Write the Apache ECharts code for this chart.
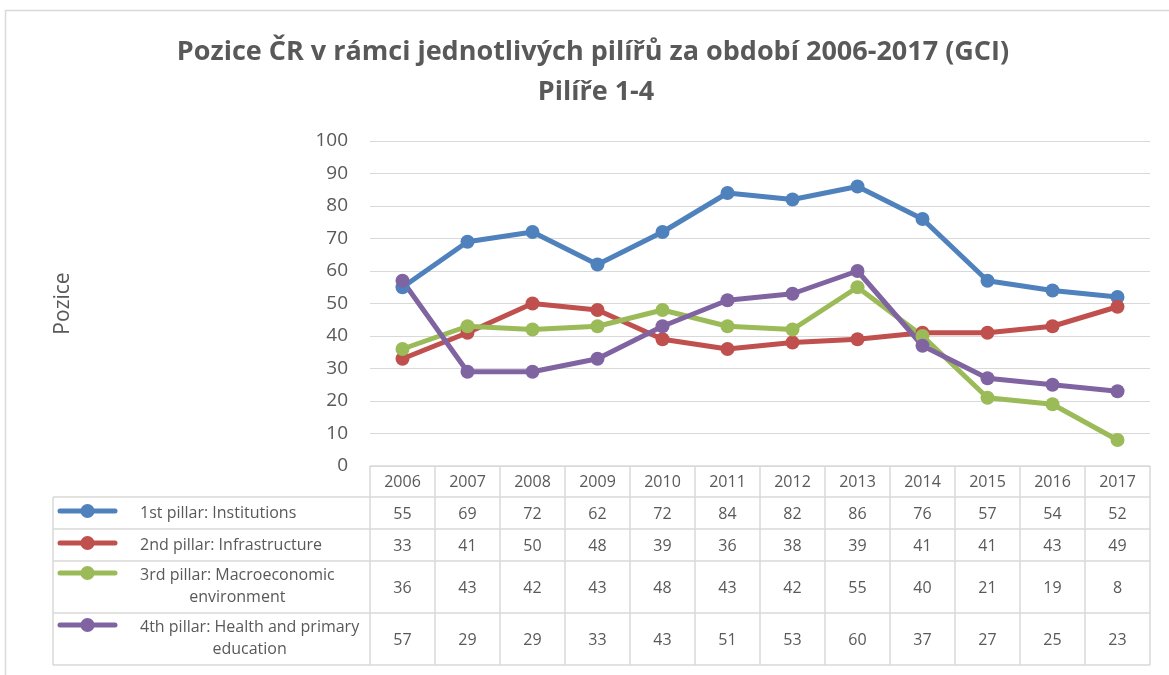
<!DOCTYPE html>
<html>
<head>
<meta charset="utf-8">
<script src="https://cdn.jsdelivr.net/npm/echarts@6/dist/echarts.min.js"></script>
<style>
html, body { margin: 0; padding: 0; background: #fff; }
#chart { width: 1169px; height: 675px; }
</style>
</head>
<body>
<div id="chart"></div>
<script>
// data
var years = ['2006', '2007', '2008', '2009', '2010', '2011', '2012', '2013', '2014', '2015', '2016', '2017'];
var institutions = [55, 69, 72, 62, 72, 84, 82, 86, 76, 57, 54, 52];
var infrastructure = [33, 41, 50, 48, 39, 36, 38, 39, 41, 41, 43, 49];
var macroeconomic = [36, 43, 42, 43, 48, 43, 42, 55, 40, 21, 19, 8];
var health = [57, 29, 29, 33, 43, 51, 53, 60, 37, 27, 25, 23];
var seriesNames = [
    '1st pillar: Institutions',
    '2nd pillar: Infrastructure',
    '3rd pillar: Macroeconomic\nenvironment',
    '4th pillar: Health and primary\neducation'
];
var seriesData = [institutions, infrastructure, macroeconomic, health];
var colors = ['#4F81BD', '#C0504D', '#9BBB59', '#8064A2'];

var FONT = '"Open Sans"';
var GRAY = '#595959';
var LINE = '#d9d9d9';

var chart = echarts.init(document.getElementById('chart'));

var series = seriesData.map(function (d, i) {
    return {
        name: seriesNames[i],
        type: 'line',
        data: d,
        symbol: 'circle',
        symbolSize: 14,
        color: colors[i],
        lineStyle: { width: 5, color: colors[i] },
        itemStyle: { color: colors[i] },
        animation: false
    };
});

chart.setOption({
    backgroundColor: '#fff',
    animation: false,
    textStyle: { fontFamily: FONT },
    grid: { left: 370, right: 19, top: 141, bottom: 209 },
    xAxis: {
        type: 'category',
        data: years,
        boundaryGap: true,
        axisLine: { show: false },
        axisTick: { show: false },
        axisLabel: { show: false }
    },
    yAxis: {
        type: 'value',
        min: 0,
        max: 100,
        interval: 10,
        name: 'Pozice',
        nameLocation: 'middle',
        nameGap: 296,
        nameRotate: 90,
        nameTextStyle: { color: GRAY, fontSize: 21, fontFamily: FONT },
        axisLine: { show: false },
        axisTick: { show: false },
        axisLabel: { color: GRAY, fontSize: 19, fontFamily: FONT, margin: 22 },
        splitLine: { lineStyle: { color: LINE, width: 1 } }
    },
    series: series
});

// data table under the plot, built from the arrays above
var ctx = document.createElement('canvas').getContext('2d');
var rows = [
    { top: 497, h: 32 },
    { top: 529, h: 32 },
    { top: 561, h: 52 },
    { top: 613, h: 52 }
];
var headTop = 466, tableBottom = 665, tableLeft = 53;
var band = chart.convertToPixel({ xAxisIndex: 0 }, 1) - chart.convertToPixel({ xAxisIndex: 0 }, 0);
var firstX = chart.convertToPixel({ xAxisIndex: 0 }, 0) - band / 2;
var lastX = firstX + band * years.length;
var g = [];
var lineStyle = { stroke: LINE, lineWidth: 1.5 };
var txt = { fill: GRAY, fontSize: 16, fontFamily: FONT, align: 'center', verticalAlign: 'middle' };

// outer chart border
g.push({ type: 'polyline', shape: { points: [[5.5, 675], [5.5, 10.5], [1169, 10.5]] }, style: { stroke: LINE, lineWidth: 1.5, fill: null }, silent: true });

// title
g.push({ type: 'text', x: 593, y: 52, style: { text: 'Pozice ČR v rámci jednotlivých pilířů za období 2006-2017 (GCI)', fill: GRAY, fontSize: 27, fontWeight: 'bold', fontFamily: FONT, align: 'center', verticalAlign: 'middle' } });
g.push({ type: 'text', x: 596, y: 92, style: { text: 'Pilíře 1-4', fill: GRAY, fontSize: 27, fontWeight: 'bold', fontFamily: FONT, align: 'center', verticalAlign: 'middle' } });

// horizontal lines
g.push({ type: 'line', shape: { x1: firstX, y1: headTop, x2: lastX, y2: headTop }, style: lineStyle, silent: true });
rows.forEach(function (r) {
    g.push({ type: 'line', shape: { x1: tableLeft, y1: r.top, x2: lastX, y2: r.top }, style: lineStyle, silent: true });
});
g.push({ type: 'line', shape: { x1: tableLeft, y1: tableBottom, x2: lastX, y2: tableBottom }, style: lineStyle, silent: true });
// vertical lines
g.push({ type: 'line', shape: { x1: tableLeft, y1: rows[0].top, x2: tableLeft, y2: tableBottom }, style: lineStyle, silent: true });
for (var k = 0; k <= years.length; k++) {
    var vx = firstX + band * k;
    g.push({ type: 'line', shape: { x1: vx, y1: headTop, x2: vx, y2: tableBottom }, style: lineStyle, silent: true });
}
// year header
years.forEach(function (y, i) {
    var cx = chart.convertToPixel({ xAxisIndex: 0 }, i);
    g.push({ type: 'text', x: cx, y: (headTop + rows[0].top) / 2 + 1, style: Object.assign({ text: y }, txt) });
});
// rows
ctx.font = '16px ' + FONT;
rows.forEach(function (r, s) {
    var lines = seriesNames[s].split('\n');
    var firstY = lines.length > 1 ? r.top + 14 : r.top + r.h / 2;
    // legend key
    g.push({ type: 'line', shape: { x1: 60, y1: firstY - 2, x2: 115, y2: firstY - 2 }, style: { stroke: colors[s], lineWidth: 5, lineCap: 'round' }, silent: true });
    g.push({ type: 'circle', shape: { cx: 87.5, cy: firstY - 2, r: 7 }, style: { fill: colors[s] }, silent: true });
    var w = ctx.measureText(lines[0]).width;
    g.push({ type: 'text', x: 140 + w / 2, y: firstY - 11, style: Object.assign({}, txt, { text: seriesNames[s], lineHeight: 22, verticalAlign: 'top' }) });
    seriesData[s].forEach(function (v, i) {
        var cx = chart.convertToPixel({ xAxisIndex: 0 }, i);
        g.push({ type: 'text', x: cx, y: r.top + r.h / 2 + 1, style: Object.assign({ text: String(v) }, txt) });
    });
});

chart.setOption({ graphic: g });
</script>
</body>
</html>
